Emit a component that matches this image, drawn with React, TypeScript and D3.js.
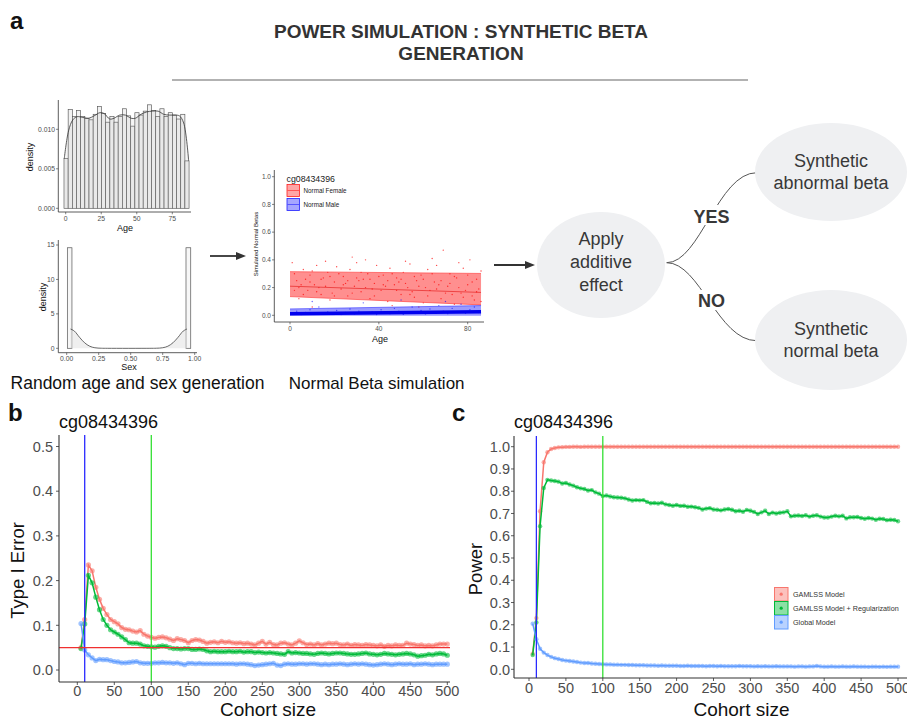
import React from 'react';
import * as d3 from 'd3';

const FONT = "'Liberation Sans', Arial, Helvetica, sans-serif";

// ---------- Panel a data ----------
const AGE_BIN_START = -1.2;
const AGE_BIN_WIDTH = 2.933;
const AGE_DENSITY = [0.0063,0.0125,0.0116,0.0124,0.0116,0.0114,0.0112,0.0119,0.0129,0.0120,0.0109,0.0116,0.0109,0.0116,0.0126,0.0117,0.0104,0.0121,0.0118,0.0123,0.0131,0.0124,0.0116,0.0126,0.0116,0.0121,0.0118,0.0113,0.0119,0.0060];
const AGE_KDE: [number, number][] = [[-1,0.0063],[2,0.0098],[5,0.0112],[8,0.0116],[12,0.0115],[16,0.0114],[20,0.0117],[24,0.0121],[27,0.0120],[31,0.0113],[34,0.0114],[38,0.0118],[42,0.0118],[46,0.0114],[49,0.0114],[53,0.0119],[57,0.0122],[61,0.0123],[65,0.0123],[69,0.0119],[73,0.0118],[77,0.0118],[80,0.0117],[83,0.0108],[86.5,0.0060]];
const AGE_TICKS = [0, 25, 50, 75];
const AGE_DENS_TICKS = [0, 0.005, 0.01];

const SEX_BINS: [number, number, number][] = [[0.005,0.041,14.6],[0.932,0.969,14.6]];
const SEX_KDE: [number, number][] = [[0.03,2.8],[0.06,2.5],[0.1,1.6],[0.14,0.8],[0.18,0.3],[0.22,0.08],[0.27,0.01],[0.32,0],[0.65,0],[0.7,0.01],[0.75,0.08],[0.79,0.3],[0.83,0.8],[0.87,1.6],[0.91,2.5],[0.94,2.8]];
const SEX_TICKS = [0, 0.25, 0.5, 0.75, 1];
const SEX_DENS_TICKS = [0, 5, 10, 15];

const FEMALE_RIBBON = [{ age: 0, lo: 0.135, fit: 0.21, hi: 0.315 }, { age: 86, lo: 0.075, fit: 0.165, hi: 0.302 }];
const MALE_RIBBON = [{ age: 0, lo: -0.004, fit: 0.012, hi: 0.046 }, { age: 86, lo: -0.004, fit: 0.025, hi: 0.07 }];
const FEMALE_POINTS: [number, number][] = [[1,0.38],[3,0.25],[4,0.12],[6,0.33],[8,0.18],[9,0.29],[11,0.22],[12,0.36],[14,0.15],[15,0.27],[17,0.31],[18,0.11],[20,0.24],[21,0.35],[23,0.19],[24,0.28],[26,0.14],[27,0.33],[29,0.21],[30,0.38],[32,0.17],[33,0.26],[35,0.30],[36,0.12],[38,0.23],[39,0.36],[41,0.18],[42,0.29],[44,0.10],[45,0.34],[47,0.22],[48,0.27],[50,0.15],[51,0.31],[53,0.20],[54,0.37],[56,0.13],[57,0.25],[59,0.29],[60,0.09],[62,0.33],[63,0.18],[65,0.24],[66,0.36],[68,0.12],[69,0.47],[71,0.21],[72,0.30],[74,0.08],[75,0.27],[77,0.16],[78,0.34],[80,0.22],[81,0.40],[83,0.11],[84,0.26],[85,0.19],[86,0.32],[2,0.18],[5,0.22],[7,0.26],[13,0.20],[19,0.16],[25,0.23],[31,0.25],[37,0.19],[43,0.21],[49,0.24],[55,0.17],[61,0.20],[67,0.22],[73,0.15],[79,0.18],[82,0.14],[58,0.06],[46,0.07],[34,0.40],[16,0.39],
[2,0.30],[4,0.20],[6,0.15],[9,0.24],[10,0.32],[12,0.17],[14,0.26],[16,0.21],[18,0.28],[20,0.14],[22,0.30],[24,0.22],[26,0.25],[28,0.16],[30,0.27],[32,0.31],[34,0.20],[36,0.26],[38,0.14],[40,0.28],[42,0.22],[44,0.25],[46,0.30],[48,0.18],[50,0.26],[52,0.23],[54,0.15],[56,0.28],[58,0.21],[60,0.26],[62,0.14],[64,0.30],[66,0.19],[68,0.25],[70,0.16],[72,0.23],[74,0.28],[76,0.20],[78,0.13],[80,0.29],[82,0.24],[84,0.17],[86,0.10],[28,0.42],[52,0.39],[76,0.38],[64,0.41],[10,0.06]];
const MALE_POINTS: [number, number][] = [[1,0.01],[3,0.03],[5,0.005],[7,0.02],[9,0.04],[11,0.012],[13,0.06],[15,0.008],[17,0.025],[19,0.015],[21,0.035],[23,0.005],[25,0.02],[27,0.045],[29,0.01],[31,0.03],[33,0.09],[35,0.015],[37,0.025],[39,0.005],[41,0.04],[43,0.02],[45,0.012],[47,0.05],[49,0.03],[51,0.008],[53,0.025],[55,0.06],[57,0.015],[59,0.035],[61,0.01],[63,0.045],[65,0.02],[67,0.07],[69,0.03],[71,0.012],[73,0.05],[75,0.025],[77,0.08],[79,0.015],[81,0.04],[83,0.06],[85,0.02],[10,0.1],[50,0.11],[70,0.1]];
const BETA_TICKS = [0, 0.2, 0.4, 0.6, 0.8, 1.0];
const BETA_AGE_TICKS = [0, 40, 80];

// ---------- Panels b / c data ----------
const COHORT = d3.range(5, 501, 5);
const COHORT_TICKS = [0,50,100,150,200,250,300,350,400,450,500];
const TYPE1_TICKS = [0,0.1,0.2,0.3,0.4,0.5];
const POWER_TICKS = [0,0.1,0.2,0.3,0.4,0.5,0.6,0.7,0.8,0.9,1.0];
const SERIES_NAMES = ['GAMLSS Model', 'GAMLSS Model + Regularization', 'Global Model'];
const SERIES_COLORS = ['#F8766D', '#00BA38', '#619CFF'];
const MIN_SAMPLE = 10;
const RECOMMENDED = 100;
const ALPHA = 0.05;

const TYPE1_GAMLSS = [
0.05,0.113,0.235,0.222,0.185,0.158,0.138,0.124,0.113,0.108,
0.103,0.095,0.091,0.090,0.087,0.085,0.088,0.080,0.076,0.073,
0.071,0.073,0.074,0.072,0.069,0.066,0.070,0.068,0.066,0.061,
0.066,0.068,0.067,0.064,0.060,0.062,0.063,0.061,0.064,0.062,
0.063,0.061,0.060,0.061,0.059,0.060,0.058,0.056,0.060,0.064,
0.058,0.062,0.057,0.056,0.060,0.061,0.058,0.056,0.060,0.065,
0.061,0.057,0.058,0.056,0.059,0.056,0.058,0.060,0.059,0.060,
0.057,0.056,0.058,0.055,0.057,0.056,0.055,0.057,0.056,0.055,
0.054,0.056,0.053,0.055,0.054,0.056,0.055,0.055,0.060,0.058,
0.057,0.055,0.056,0.054,0.055,0.054,0.056,0.058,0.058,0.058];
const TYPE1_REG = [
0.048,0.103,0.212,0.195,0.163,0.135,0.113,0.100,0.090,0.085,
0.080,0.074,0.068,0.061,0.060,0.060,0.058,0.054,0.053,0.052,
0.051,0.053,0.054,0.053,0.050,0.048,0.048,0.047,0.048,0.048,
0.046,0.046,0.047,0.046,0.043,0.041,0.042,0.041,0.041,0.041,
0.042,0.041,0.041,0.042,0.040,0.041,0.041,0.039,0.040,0.039,
0.038,0.039,0.038,0.037,0.036,0.035,0.041,0.038,0.039,0.038,
0.037,0.037,0.036,0.035,0.037,0.038,0.037,0.036,0.037,0.038,
0.038,0.037,0.036,0.035,0.035,0.036,0.037,0.038,0.036,0.035,
0.034,0.035,0.037,0.036,0.035,0.034,0.035,0.036,0.037,0.036,
0.034,0.031,0.032,0.033,0.035,0.034,0.036,0.037,0.036,0.033];
const TYPE1_GLOBAL = [
0.104,0.045,0.034,0.027,0.021,0.024,0.023,0.023,0.021,0.019,
0.018,0.016,0.016,0.017,0.018,0.019,0.016,0.015,0.015,0.015,
0.016,0.016,0.017,0.016,0.016,0.015,0.016,0.014,0.012,0.015,
0.015,0.014,0.015,0.014,0.014,0.014,0.014,0.014,0.014,0.014,
0.014,0.014,0.013,0.014,0.014,0.013,0.012,0.010,0.011,0.012,
0.013,0.014,0.015,0.011,0.010,0.013,0.014,0.013,0.013,0.014,
0.014,0.013,0.014,0.014,0.013,0.012,0.013,0.012,0.013,0.013,
0.014,0.013,0.012,0.013,0.014,0.013,0.014,0.013,0.012,0.011,
0.012,0.013,0.014,0.013,0.012,0.013,0.014,0.013,0.013,0.014,
0.012,0.013,0.013,0.014,0.013,0.012,0.013,0.013,0.013,0.013];

const POWER_GAMLSS = [
0.07,0.23,0.71,0.93,0.975,0.99,0.994,0.997,0.998,0.999,
0.999,1,1,0.999,1,1,1,1,1,1,
1,1,1,1,1,1,1,1,1,1,
1,1,1,1,1,1,1,1,1,1,
1,1,1,1,1,1,1,1,1,1,
1,1,1,1,1,1,1,1,1,1,
1,1,1,1,1,1,1,1,1,1,
1,1,1,1,1,1,1,1,1,1,
1,1,1,1,1,1,1,1,1,1,
1,1,1,1,1,1,1,1,1,1];
const POWER_REG = [
0.064,0.21,0.643,0.815,0.851,0.848,0.846,0.843,0.835,0.837,
0.830,0.825,0.818,0.813,0.810,0.803,0.805,0.795,0.789,0.778,
0.781,0.776,0.773,0.772,0.771,0.768,0.763,0.758,0.760,0.759,
0.760,0.752,0.746,0.747,0.745,0.748,0.741,0.738,0.735,0.738,
0.734,0.735,0.730,0.731,0.728,0.725,0.718,0.722,0.724,0.718,
0.717,0.714,0.718,0.720,0.717,0.710,0.712,0.708,0.716,0.712,
0.707,0.698,0.705,0.712,0.698,0.704,0.700,0.703,0.705,0.710,
0.687,0.690,0.691,0.689,0.692,0.686,0.690,0.692,0.686,0.682,
0.682,0.686,0.690,0.687,0.690,0.678,0.683,0.683,0.684,0.680,
0.676,0.680,0.677,0.672,0.676,0.675,0.670,0.672,0.671,0.665];
const POWER_GLOBAL = [
0.205,0.135,0.092,0.075,0.064,0.056,0.050,0.046,0.042,0.039,
0.037,0.035,0.033,0.030,0.028,0.028,0.026,0.025,0.024,0.023,
0.022,0.022,0.021,0.021,0.020,0.020,0.019,0.019,0.018,0.018,
0.018,0.017,0.017,0.017,0.016,0.017,0.016,0.016,0.016,0.016,
0.015,0.015,0.016,0.015,0.015,0.015,0.015,0.014,0.015,0.015,
0.014,0.015,0.014,0.014,0.014,0.014,0.015,0.014,0.014,0.014,
0.013,0.014,0.013,0.014,0.013,0.013,0.014,0.013,0.013,0.013,
0.013,0.012,0.013,0.013,0.012,0.013,0.013,0.015,0.013,0.012,
0.012,0.013,0.012,0.012,0.013,0.012,0.012,0.013,0.012,0.012,
0.012,0.011,0.012,0.012,0.011,0.012,0.011,0.012,0.012,0.012];

const AX = '#333';
const TICKC = '#4d4d4d';

function Histograms() {
  const xA = d3.scaleLinear().domain([0, 75]).range([65.7, 172.3]);
  const yA = d3.scaleLinear().domain([0, 0.01]).range([208.3, 129.3]);
  const ageLine = d3.line<[number, number]>().x(d => xA(d[0])).y(d => yA(d[1])).curve(d3.curveCatmullRom);
  const ageArea = d3.area<[number, number]>().x(d => xA(d[0])).y0(yA(0)).y1(d => yA(d[1])).curve(d3.curveCatmullRom);
  const xS = d3.scaleLinear().domain([0, 1]).range([66.7, 194.7]);
  const yS = d3.scaleLinear().domain([0, 15]).range([348.3, 245]);
  const sexLine = d3.line<[number, number]>().x(d => xS(d[0])).y(d => yS(d[1])).curve(d3.curveCatmullRom);
  const sexArea = d3.area<[number, number]>().x(d => xS(d[0])).y0(yS(0)).y1(d => yS(d[1])).curve(d3.curveCatmullRom);
  const fmt3 = d3.format('.3f');
  const fmt2 = d3.format('.2f');
  return (
    <g fontFamily={FONT}>
      {AGE_DENSITY.map((d, i) => {
        const x0 = AGE_BIN_START + i * AGE_BIN_WIDTH;
        return <rect key={i} x={xA(x0)} y={yA(d)} width={xA(x0 + AGE_BIN_WIDTH) - xA(x0)} height={yA(0) - yA(d)} fill="#f2f2f2" stroke="#555" strokeWidth={0.65} />;
      })}
      <path d={ageArea(AGE_KDE) || ''} fill="#999" fillOpacity={0.1} />
      <path d={ageLine(AGE_KDE) || ''} fill="none" stroke="#333" strokeWidth={0.8} />
      <line x1={58.3} x2={58.3} y1={100} y2={212} stroke={AX} strokeWidth={0.8} />
      <line x1={58.3} x2={191} y1={212} y2={212} stroke={AX} strokeWidth={0.8} />
      {AGE_DENS_TICKS.map(t => (
        <g key={t}>
          <line x1={56} x2={58.3} y1={yA(t)} y2={yA(t)} stroke={AX} strokeWidth={0.6} />
          <text x={55} y={yA(t) + 2.4} fontSize={6.8} fill={TICKC} textAnchor="end">{fmt3(t)}</text>
        </g>
      ))}
      {AGE_TICKS.map(t => (
        <g key={t}>
          <line x1={xA(t)} x2={xA(t)} y1={212} y2={214.3} stroke={AX} strokeWidth={0.6} />
          <text x={xA(t)} y={220.5} fontSize={6.8} fill={TICKC} textAnchor="middle">{t}</text>
        </g>
      ))}
      <text x={125} y={231} fontSize={9} fill="#111" textAnchor="middle">Age</text>
      <text transform={`translate(33,157) rotate(-90)`} fontSize={9} fill="#111" textAnchor="middle">density</text>

      {SEX_BINS.map((b, i) => (
        <rect key={i} x={xS(b[0])} y={yS(b[2])} width={xS(b[1]) - xS(b[0])} height={yS(0) - yS(b[2])} fill="#f7f7f7" stroke="#555" strokeWidth={0.7} />
      ))}
      <path d={sexArea(SEX_KDE) || ''} fill="#e0e0e0" fillOpacity={0.5} />
      <path d={sexLine(SEX_KDE) || ''} fill="none" stroke="#444" strokeWidth={0.8} />
      <line x1={58.3} x2={58.3} y1={240} y2={352.7} stroke={AX} strokeWidth={0.8} />
      <line x1={58.3} x2={197} y1={352.7} y2={352.7} stroke={AX} strokeWidth={0.8} />
      {SEX_DENS_TICKS.map(t => (
        <g key={t}>
          <line x1={56} x2={58.3} y1={yS(t)} y2={yS(t)} stroke={AX} strokeWidth={0.6} />
          <text x={54.5} y={yS(t) + 2.4} fontSize={6.8} fill={TICKC} textAnchor="end">{t}</text>
        </g>
      ))}
      {SEX_TICKS.map(t => (
        <g key={t}>
          <line x1={xS(t)} x2={xS(t)} y1={352.7} y2={355} stroke={AX} strokeWidth={0.6} />
          <text x={xS(t)} y={361} fontSize={6.8} fill={TICKC} textAnchor="middle">{fmt2(t)}</text>
        </g>
      ))}
      <text x={129} y={370} fontSize={9} fill="#111" textAnchor="middle">Sex</text>
      <text transform={`translate(46,297) rotate(-90)`} fontSize={9} fill="#111" textAnchor="middle">density</text>
      <text x={137.5} y={389} fontSize={17.5} fill="#111" textAnchor="middle">Random age and sex generation</text>
    </g>
  );
}

function BetaScatter() {
  const x = d3.scaleLinear().domain([0, 80]).range([290, 467.7]);
  const y = d3.scaleLinear().domain([0, 1]).range([315.3, 176.7]);
  type R = { age: number; lo: number; fit: number; hi: number };
  const band = d3.area<R>().x(d => x(d.age)).y0(d => y(d.lo)).y1(d => y(d.hi));
  const hiL = d3.line<R>().x(d => x(d.age)).y(d => y(d.hi));
  const loL = d3.line<R>().x(d => x(d.age)).y(d => y(d.lo));
  const fitL = d3.line<R>().x(d => x(d.age)).y(d => y(d.fit));
  const f1 = d3.format('.1f');
  return (
    <g fontFamily={FONT}>
      <path d={band(FEMALE_RIBBON) || ''} fill="#ff2020" fillOpacity={0.5} />
      {FEMALE_POINTS.map((p, i) => <circle key={i} cx={x(p[0])} cy={y(p[1])} r={0.7} fill="#ff0000" fillOpacity={0.7} />)}
      <path d={hiL(FEMALE_RIBBON) || ''} stroke="#ff3030" strokeWidth={0.6} fill="none" />
      <path d={loL(FEMALE_RIBBON) || ''} stroke="#ff3030" strokeWidth={0.6} fill="none" />
      <path d={fitL(FEMALE_RIBBON) || ''} stroke="#e01010" strokeWidth={0.6} fill="none" />
      <path d={band(MALE_RIBBON) || ''} fill="#2020ff" fillOpacity={0.45} />
      {MALE_POINTS.map((p, i) => <circle key={i} cx={x(p[0])} cy={y(p[1])} r={0.7} fill="#0000ff" fillOpacity={0.6} />)}
      <path d={fitL(MALE_RIBBON) || ''} stroke="#0000ee" strokeWidth={3.5} fill="none" />
      <path d={hiL(MALE_RIBBON) || ''} stroke="#3030ff" strokeWidth={0.6} fill="none" />
      <line x1={274.3} x2={274.3} y1={170} y2={322} stroke={AX} strokeWidth={0.8} />
      <line x1={274.3} x2={484} y1={322} y2={322} stroke={AX} strokeWidth={0.8} />
      {BETA_TICKS.map(t => (
        <g key={t}>
          <line x1={272} x2={274.3} y1={y(t)} y2={y(t)} stroke={AX} strokeWidth={0.6} />
          <text x={271} y={y(t) + 2.3} fontSize={6.5} fill={TICKC} textAnchor="end">{f1(t)}</text>
        </g>
      ))}
      {BETA_AGE_TICKS.map(t => (
        <g key={t}>
          <line x1={x(t)} x2={x(t)} y1={322} y2={324.3} stroke={AX} strokeWidth={0.6} />
          <text x={x(t)} y={331} fontSize={6.5} fill={TICKC} textAnchor="middle">{t}</text>
        </g>
      ))}
      <text x={380} y={341.5} fontSize={9} fill="#111" textAnchor="middle">Age</text>
      <text transform={`translate(258,244) rotate(-90)`} fontSize={6} fill="#111" textAnchor="middle">Simulated Normal Betas</text>
      <text x={286.5} y={181.5} fontSize={8.8} fill="#222">cg08434396</text>
      <rect x={287} y={184.5} width={12.5} height={12} fill="#ff2020" fillOpacity={0.4} stroke="#ff2020" strokeWidth={0.8} />
      <line x1={287.5} x2={299} y1={190.5} y2={190.5} stroke="#ff2020" strokeWidth={0.6} />
      <rect x={287} y={198.5} width={12.5} height={12} fill="#2020ff" fillOpacity={0.4} stroke="#2020ff" strokeWidth={0.8} />
      <line x1={287.5} x2={299} y1={204.5} y2={204.5} stroke="#2020ff" strokeWidth={0.6} />
      <text x={303.5} y={192.7} fontSize={6.3} fill="#222">Normal Female</text>
      <text x={303.5} y={206.7} fontSize={6.3} fill="#222">Normal Male</text>
      <text x={376.7} y={389} fontSize={17} fill="#111" textAnchor="middle">Normal Beta simulation</text>
    </g>
  );
}

function Arrow({ x1, x2, y }: { x1: number; x2: number; y: number }) {
  return (
    <g>
      <line x1={x1} x2={x2 - 8} y1={y} y2={y} stroke="#333" strokeWidth={1.8} />
      <polygon points={`${x2},${y} ${x2 - 10},${y - 4} ${x2 - 10},${y + 4}`} fill="#333" />
    </g>
  );
}

function Diagram() {
  const fill = '#eff0f2';
  const tc = '#383838';
  return (
    <g fontFamily={FONT}>
      <Arrow x1={210} x2={246} y={256} />
      <Arrow x1={494} x2={535} y={265} />
      <path d="M666.7,262.7 C700,262.7 718,172.7 756.7,172.7" fill="none" stroke="#555" strokeWidth={1} />
      <path d="M666.7,262.7 C700,262.7 718,340.7 756.7,340.7" fill="none" stroke="#555" strokeWidth={1} />
      <rect x={692} y={205} width={40} height={20} fill="#fff" />
      <rect x={696} y={290} width={32} height={20} fill="#fff" />
      <text x={711.5} y={222.5} fontSize={18} fontWeight="bold" fill={tc} textAnchor="middle">YES</text>
      <text x={711.5} y={306.5} fontSize={18} fontWeight="bold" fill={tc} textAnchor="middle">NO</text>
      <ellipse cx={601} cy={265} rx={64} ry={53} fill={fill} />
      <text x={601} y={245} fontSize={18} fill={tc} textAnchor="middle">Apply</text>
      <text x={601} y={268} fontSize={18} fill={tc} textAnchor="middle">additive</text>
      <text x={601} y={291} fontSize={18} fill={tc} textAnchor="middle">effect</text>
      <ellipse cx={831} cy={172} rx={76} ry={49} fill={fill} />
      <text x={831} y={167} fontSize={18} fill={tc} textAnchor="middle">Synthetic</text>
      <text x={831} y={189} fontSize={18} fill={tc} textAnchor="middle">abnormal beta</text>
      <ellipse cx={831} cy={340} rx={76} ry={50} fill={fill} />
      <text x={831} y={335} fontSize={18} fill={tc} textAnchor="middle">Synthetic</text>
      <text x={831} y={357} fontSize={18} fill={tc} textAnchor="middle">normal beta</text>
    </g>
  );
}

type PanelProps = {
  letter: string; letterX: number;
  axisX: number; axisTop: number; axisY: number; axisRight: number;
  xr: [number, number]; yr: [number, number]; yMax: number;
  yTicks: number[]; yLabel: string; yLabelX: number; tickLabelX: number; xTickBase: number; xLabelX: number;
  series: number[][]; hline?: number; r: number; legend?: boolean;
};

function LinePanel(p: PanelProps) {
  const x = d3.scaleLinear().domain([0, 500]).range(p.xr);
  const y = d3.scaleLinear().domain([0, p.yMax]).range(p.yr);
  const line = d3.line<number>().x((_, i) => x(COHORT[i])).y(d => y(d));
  const f1 = d3.format('.1f');
  return (
    <g fontFamily={FONT}>
      <text x={p.letterX} y={421} fontSize={24} fontWeight="bold" fill="#111">{p.letter}</text>
      <text x={p.axisX} y={428} fontSize={18} fill="#111">cg08434396</text>
      {p.series.map((s, k) => (
        <g key={k}>
          <path d={line(s) || ''} fill="none" stroke={SERIES_COLORS[k]} strokeWidth={1.5} />
          {s.map((v, i) => <circle key={i} cx={x(COHORT[i])} cy={y(v)} r={p.r} fill={SERIES_COLORS[k]} fillOpacity={0.6} />)}
        </g>
      ))}
      <line x1={x(MIN_SAMPLE)} x2={x(MIN_SAMPLE)} y1={p.axisTop} y2={p.axisY} stroke="#2a2aff" strokeWidth={1.3} />
      <line x1={x(RECOMMENDED)} x2={x(RECOMMENDED)} y1={p.axisTop} y2={p.axisY} stroke="#33e033" strokeWidth={1.3} />
      {p.hline !== undefined && (
        <line x1={p.axisX} x2={p.axisRight} y1={y(p.hline)} y2={y(p.hline)} stroke="#f03030" strokeWidth={1.2} />
      )}
      <line x1={p.axisX} x2={p.axisX} y1={p.axisTop} y2={p.axisY} stroke={AX} strokeWidth={1.1} />
      <line x1={p.axisX} x2={p.axisRight} y1={p.axisY} y2={p.axisY} stroke={AX} strokeWidth={1.1} />
      {p.yTicks.map(t => (
        <g key={t}>
          <line x1={p.axisX - 3} x2={p.axisX} y1={y(t)} y2={y(t)} stroke={AX} strokeWidth={0.8} />
          <text x={p.tickLabelX} y={y(t) + 5.2} fontSize={14.5} fill={TICKC} textAnchor="end">{f1(t)}</text>
        </g>
      ))}
      {COHORT_TICKS.map(t => (
        <g key={t}>
          <line x1={x(t)} x2={x(t)} y1={p.axisY} y2={p.axisY + 3} stroke={AX} strokeWidth={0.8} />
          <text x={x(t)} y={p.xTickBase} fontSize={14.5} fill={TICKC} textAnchor="middle">{t}</text>
        </g>
      ))}
      <text x={p.xLabelX} y={716} fontSize={19} fill="#111" textAnchor="middle">Cohort size</text>
      <text transform={`translate(${p.yLabelX},${(p.axisTop + p.axisY) / 2 + 12}) rotate(-90)`} fontSize={18.5} fill="#111" textAnchor="middle">{p.yLabel}</text>
      {p.legend && SERIES_NAMES.map((n, k) => (
        <g key={n}>
          <rect x={774.5} y={587.5 + k * 14} width={13.5} height={13.5} fill={SERIES_COLORS[k]} fillOpacity={0.45} stroke={SERIES_COLORS[k]} strokeWidth={1} />
          <circle cx={781.2} cy={594.2 + k * 14} r={1.6} fill={SERIES_COLORS[k]} />
          <text x={793} y={596.8 + k * 14} fontSize={7.2} fill="#333">{n}</text>
        </g>
      ))}
    </g>
  );
}

export default function App() {
  return (
    <svg width={907} height={720} viewBox="0 0 907 720" style={{ position: 'absolute', left: 0, top: 0, background: '#fff' }}>
      <rect width={907} height={720} fill="#fff" />
      <text x={10} y={29} fontSize={24} fontWeight="bold" fontFamily={FONT} fill="#111">a</text>
      <text x={461} y={38} fontSize={19} fontWeight="bold" fontFamily={FONT} fill="#333" textAnchor="middle">POWER SIMULATION : SYNTHETIC BETA</text>
      <text x={461} y={59.5} fontSize={19} fontWeight="bold" fontFamily={FONT} fill="#333" textAnchor="middle">GENERATION</text>
      <line x1={172} x2={748} y1={80} y2={80} stroke="#999" strokeWidth={1.5} />
      <Histograms />
      <BetaScatter />
      <Diagram />
      <LinePanel letter="b" letterX={8} axisX={59} axisTop={435} axisY={682} axisRight={450}
        xr={[77.3, 447.3]} yr={[670, 446.5]} yMax={0.5} yTicks={TYPE1_TICKS} yLabel="Type I Error" yLabelX={24}
        tickLabelX={53} xTickBase={696} xLabelX={268} series={[TYPE1_GAMLSS, TYPE1_REG, TYPE1_GLOBAL]} hline={ALPHA} r={2.6} />
      <LinePanel letter="c" letterX={452} axisX={514} axisTop={436} axisY={678} axisRight={910}
        xr={[529, 898]} yr={[669.3, 446.7]} yMax={1} yTicks={POWER_TICKS} yLabel="Power" yLabelX={481.5}
        tickLabelX={510} xTickBase={693} xLabelX={741.5} series={[POWER_GAMLSS, POWER_REG, POWER_GLOBAL]} r={2.2} legend />
    </svg>
  );
}
